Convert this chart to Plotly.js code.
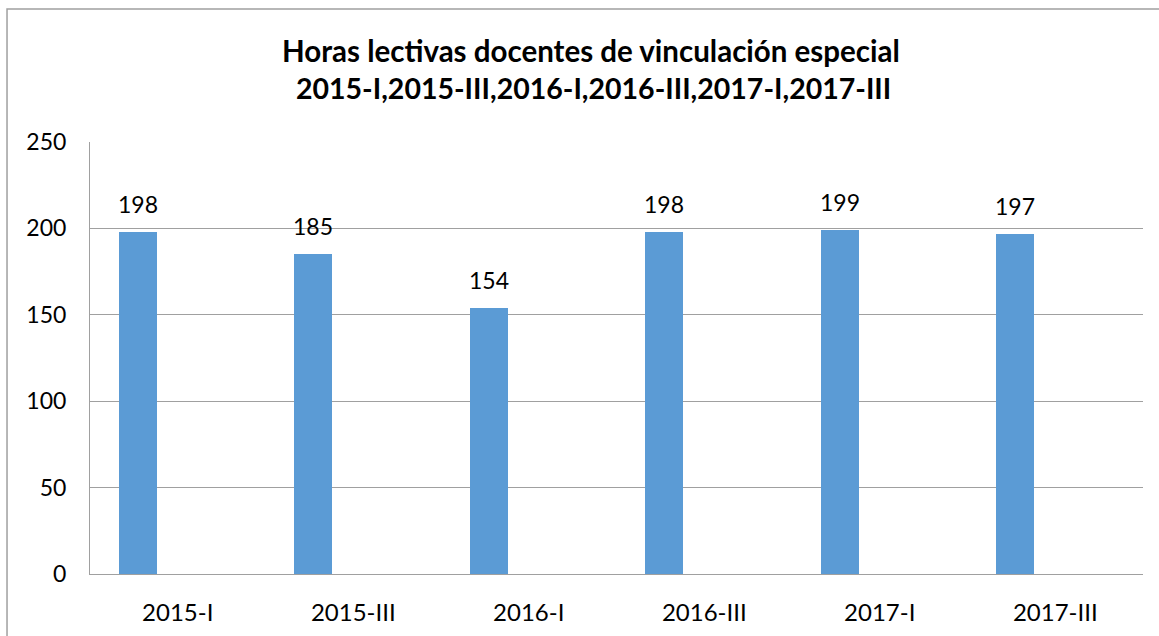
<!DOCTYPE html>
<html>
<head>
<meta charset="utf-8">
<script src="https://cdn.plot.ly/plotly-3.0.1.min.js"></script>
<style>html,body{margin:0;padding:0;background:#fff;}#chart{width:1159px;height:636px;}</style>
</head>
<body>
<div id="chart"></div>
<script>
const categories = ["2015-I", "2015-III", "2016-I", "2016-III", "2017-I", "2017-III"];
const horas = [198, 185, 154, 198, 199, 197];
const yTicks = [0, 50, 100, 150, 200, 250];
const titleLines = ["Horas lectivas docentes de vinculación especial", "2015-I,2015-III,2016-I,2016-III,2017-I,2017-III"];

const FONT = "Lato, 'Open Sans', sans-serif";
const barWidth = 0.2165;
const barOffset = -0.335;

const trace = {
  type: "bar",
  x: categories,
  y: horas,
  width: categories.map(() => barWidth),
  offset: categories.map(() => barOffset),
  marker: {color: "#5B9BD5"},
  hoverinfo: "x+y"
};

const labelAnn = horas.map((v, i) => ({
  x: i + barOffset + barWidth / 2,
  y: v,
  xref: "x", yref: "y",
  text: String(v),
  showarrow: false,
  yanchor: "bottom",
  yshift: 12,
  font: {family: FONT, size: 23, color: "#000"}
}));

const titlePos = [{x: 0.4755, y: 1.256, s: 29.5}, {x: 0.478, y: 1.169, s: 28.5}];
const titleAnn = titleLines.map((t, i) => ({
  x: titlePos[i].x, y: titlePos[i].y,
  xref: "paper", yref: "paper",
  text: "<b>" + t + "</b>",
  showarrow: false,
  xanchor: "center", yanchor: "top",
  font: {family: FONT, size: titlePos[i].s, color: "#000"}
}));

const layout = {
  width: 1159, height: 636,
  margin: {l: 90, r: 16, t: 142, b: 62},
  paper_bgcolor: "#fff", plot_bgcolor: "#fff",
  showlegend: false,
  bargap: 0,
  xaxis: {
    type: "category",
    showline: true, linecolor: "#A0A0A0", linewidth: 1,
    ticks: "", showgrid: false,
    tickfont: {family: FONT, size: 24, color: "#000"},
    ticklabelstandoff: 17,
    range: [-0.5, 5.5]
  },
  yaxis: {
    range: [0, 250], tickvals: yTicks,
    showline: true, linecolor: "#A0A0A0", linewidth: 1,
    gridcolor: "#A0A0A0", gridwidth: 1,
    ticks: "", zeroline: false,
    tickfont: {family: FONT, size: 23, color: "#000"},
    ticklabelstandoff: 18
  },
  annotations: labelAnn.concat(titleAnn),
  shapes: [{
    type: "rect", xref: "paper", yref: "paper",
    x0: -0.0788, x1: 1.05, y0: -0.25, y1: 1.3079,
    line: {color: "#A0A0A0", width: 1.5}, fillcolor: "rgba(0,0,0,0)"
  }]
};

Plotly.newPlot("chart", [trace], layout, {displayModeBar: false, staticPlot: true});
</script>
</body>
</html>
